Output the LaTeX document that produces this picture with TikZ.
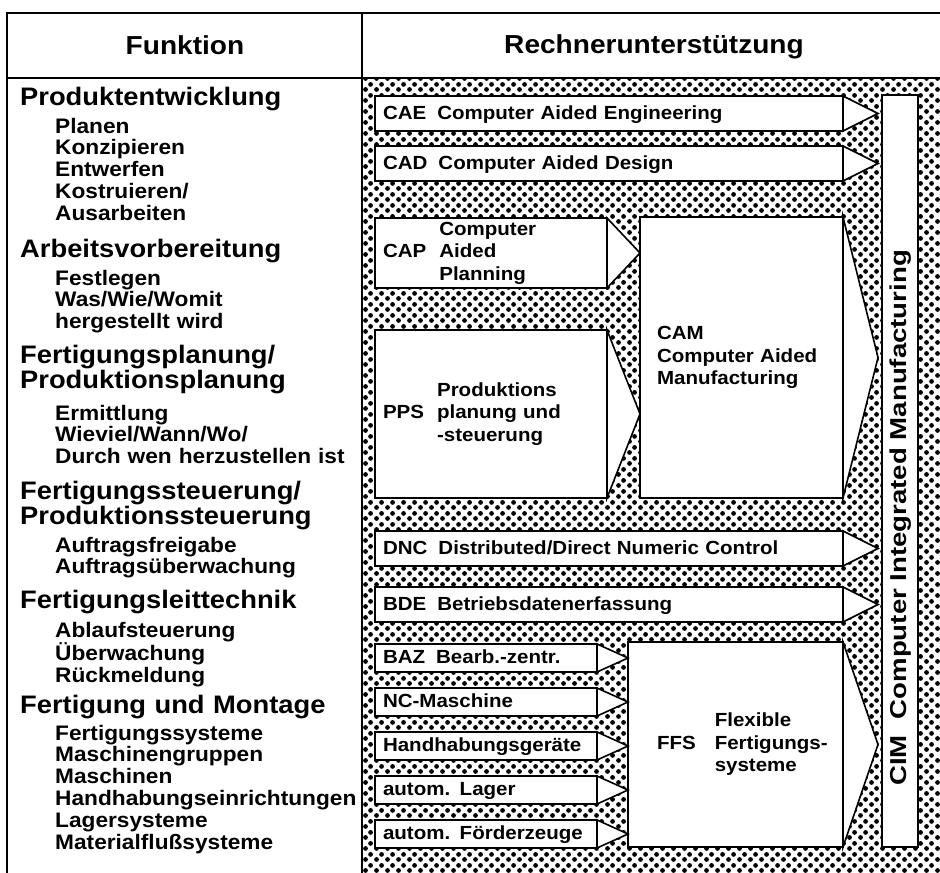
\documentclass[tikz,border=0pt]{standalone}
\usepackage{fontspec}
\setmainfont{Liberation Sans}[FakeStretch=1.08]
\newfontfamily\cimfamily{Liberation Sans}[FakeStretch=1.2]
\usetikzlibrary{patterns,calc}

% dot screen of the right column
\pgfdeclarepatternformonly{cimdots}{\pgfpointorigin}{\pgfqpoint{11pt}{11pt}}{\pgfqpoint{11pt}{11pt}}{%
  \pgfpathcircle{\pgfqpoint{2.75pt}{2.75pt}}{2.6pt}%
  \pgfpathcircle{\pgfqpoint{8.25pt}{8.25pt}}{2.6pt}%
  \pgfusepath{fill}}

\newcommand\titlefnt{\fontsize{26}{26}\selectfont\bfseries}
\newcommand\headfnt{\fontsize{25.3}{25}\selectfont\bfseries}
\newcommand\itemfnt{\fontsize{21}{21.8}\selectfont\bfseries}
\newcommand\boxfnt{\fontsize{19}{22.5}\selectfont\bfseries}
\newcommand\cimfnt{\cimfamily\fontsize{23}{23}\selectfont\bfseries}

\tikzset{
  rahmen/.style={line width=2.6pt},
  fhead/.style={anchor=base west, inner sep=0pt, font=\headfnt, text width=330pt, align=left},
  fitem/.style={anchor=base west, inner sep=0pt, font=\itemfnt, text width=300pt, align=left},
  rbox/.style={draw, line width=1.6pt, fill=white, anchor=north west, outer sep=0pt,
    inner xsep=8pt, inner ysep=0pt, font=\boxfnt, align=left},
  wbox/.style={rbox, text width=452pt, minimum height=35pt, text height=14pt, text depth=3pt},
  sbox/.style={rbox, text width=206pt, minimum height=28pt, text height=14pt, text depth=3pt},
  rhead/.style={draw, line width=1.6pt, fill=white, line join=miter},
}

\begin{document}
\begin{tikzpicture}[x=1pt,y=-1pt]
  \useasboundingbox (0,0) rectangle (940,873);
  % right column background
  \fill[pattern=cimdots] (363,78) rectangle (940,873);
  % table frame
  \draw[rahmen] (7,13) rectangle (944,880);
  \draw[rahmen] (7,78) -- (944,78);
  \draw[rahmen] (362,13) -- (362,880);
  \node[font=\titlefnt, anchor=base] (funk) at (185,54) {Funktion};
  \node[font=\titlefnt, anchor=base] (rech) at (654,53) {Rechnerunterstützung};

  % Funktion
  \node[fhead] (prod) at (20,105) {Produktentwicklung};
  \node[fitem] (prodi) at (55,133) {Planen\\Konzipieren\\Entwerfen\\Kostruieren/\\Ausarbeiten};
  \node[fhead] (arb) at (20,257) {Arbeitsvorbereitung};
  \node[fitem] (arbi) at (55,285) {Festlegen\\Was/Wie/Womit\\hergestellt wird};
  \node[fhead] (fpl) at (20,363) {Fertigungsplanung/\\Produktionsplanung};
  \node[fitem] (fpli) at (55,420) {Ermittlung\\Wieviel/Wann/Wo/\\Durch wen herzustellen ist};
  \node[fhead] (fst) at (20,499) {Fertigungssteuerung/\\Produktionssteuerung};
  \node[fitem] (fsti) at (55,552) {Auftragsfreigabe\\Auftragsüberwachung};
  \node[fhead] (flt) at (20,608) {Fertigungsleittechnik};
  \node[fitem] (flti) at (55,637) {Ablaufsteuerung\\Überwachung\\Rückmeldung};
  \node[fhead] (fmo) at (20,713) {Fertigung und Montage};
  \node[fitem] (fmoi) at (55,740) {Fertigungssysteme\\Maschinengruppen\\Maschinen\\Handhabungseinrichtungen\\Lagersysteme\\Materialflußsysteme};

  % Rechnerunterstuetzung
  \node[rbox, minimum width=36pt, minimum height=752pt, inner sep=0pt] (cim) at (882,95) {};
  \node[rotate=90, anchor=west, font=\cimfnt, inner sep=0pt] (cimlabel) at (901,786)
    {CIM\hspace{16pt}Computer Integrated Manufacturing};
  \node[wbox] (cae) at (375,96) {CAE\hspace{11pt}Computer Aided Engineering};
  \node[wbox] (cad) at (375,146) {CAD\hspace{11pt}Computer Aided Design};
  \node[rbox, text width=216pt, minimum height=70pt] (cap) at (375,218)
    {\begin{tabular}{@{}l@{\hspace{13pt}}l@{}}&Computer\\CAP&Aided\\&Planning\end{tabular}};
  \node[rbox, text width=216pt, minimum height=168pt] (pps) at (375,330)
    {\begin{tabular}{@{}l@{\hspace{13pt}}l@{}}&Produktions\\PPS&planung und\\&-steuerung\end{tabular}};
  \node[rbox, inner xsep=17pt, text width=169pt, minimum height=281pt] (cam) at (640,217)
    {CAM\\Computer Aided\\Manufacturing};
  \node[wbox] (dnc) at (375,531) {DNC\hspace{11pt}Distributed/Direct Numeric Control};
  \node[wbox] (bde) at (375,587) {BDE\hspace{11pt}Betriebsdatenerfassung};
  \node[sbox] (baz) at (375,644) {BAZ\hspace{11pt}Bearb.-zentr.};
  \node[sbox] (ncm) at (375,688) {NC-Maschine};
  \node[sbox] (hhg) at (375,732) {Handhabungsgeräte};
  \node[sbox] (lag) at (375,776) {autom. Lager};
  \node[sbox] (foe) at (375,820) {autom. Förderzeuge};
  \node[rbox, inner xsep=29pt, text width=157pt, minimum height=205pt] (ffs) at (628,642)
    {\begin{tabular}{@{}l@{\hspace{19pt}}l@{}}&Flexible\\FFS&Fertigungs-\\&systeme\end{tabular}};

  % arrow heads
  \foreach \b in {cae,cad,dnc,bde,cam,ffs}
    \draw[rhead] (\b.north east) -- ($(\b.east -| cim.west)+(-4,0)$) -- (\b.south east) -- cycle;
  \foreach \b in {cap,pps}
    \draw[rhead] (\b.north east) -- (\b.east -| cam.west) -- (\b.south east) -- cycle;
  \foreach \b in {baz,ncm,hhg,lag,foe}
    \draw[rhead] (\b.north east) -- (\b.east -| ffs.west) -- (\b.south east) -- cycle;
\end{tikzpicture}
\end{document}
